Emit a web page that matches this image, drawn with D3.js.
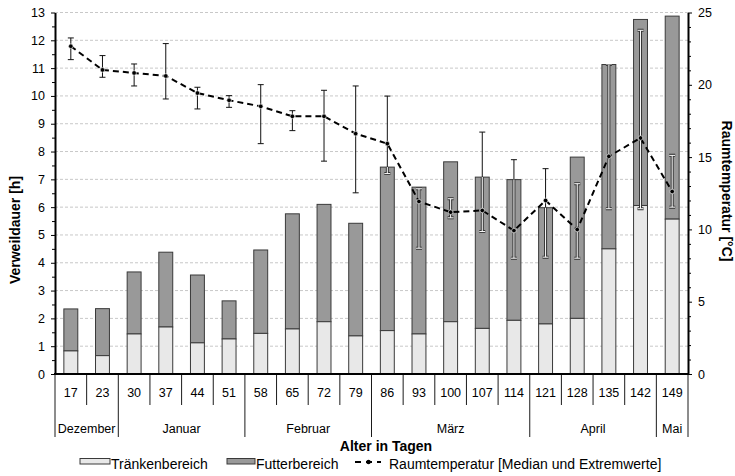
<!DOCTYPE html>
<html>
<head>
<meta charset="utf-8">
<script src="https://cdn.jsdelivr.net/npm/d3@7"></script>
<style>
  body { margin: 0; background: #fff; }
  svg { display: block; font-family: "Liberation Sans", Arial, sans-serif; }
</style>
</head>
<body>
<svg id="chart" width="735" height="476"></svg>
<script>
// Alter in Tagen (Kategorien)
const days = ["17","23","30","37","44","51","58","65","72","79","86","93","100","107","114","121","128","135","142","149"];
// Monatsgruppen: Name, erster und letzter Index
const monthNames = ["Dezember","Januar","Februar","März","April","Mai"];
const monthStart = [0, 2, 6, 10, 15, 19];
const monthEnd   = [1, 5, 9, 14, 18, 19];
// Verweildauer [h]
const traenken = [0.83,0.66,1.44,1.69,1.12,1.26,1.46,1.62,1.88,1.37,1.56,1.44,1.88,1.64,1.93,1.80,2.00,4.50,6.06,5.57];
const gesamt   = [2.34,2.35,3.67,4.38,3.56,2.63,4.46,5.76,6.10,5.42,7.44,6.72,7.63,7.08,6.99,5.98,7.80,11.13,12.75,12.87];
// Raumtemperatur [°C]: Median, Minimum, Maximum
const tMedian = [22.67,21.03,20.82,20.61,19.43,18.93,18.51,17.82,17.82,16.62,15.93,11.93,11.19,11.31,9.92,12.00,9.99,15.05,16.32,12.62];
const tMin    = [21.74,20.52,19.92,19.02,18.33,18.44,15.93,16.83,14.72,12.53,13.86,8.70,10.80,9.85,8.01,8.08,8.01,11.43,11.43,11.54];
const tMax    = [23.24,22.02,21.44,22.85,19.83,19.25,20.01,18.21,19.62,19.92,19.22,12.81,12.12,16.73,14.82,14.20,13.16,21.40,23.77,15.12];
const leftTicks = d3.range(0, 14);
const rightTicks = [0, 5, 10, 15, 20, 25];

const svg = d3.select("#chart");
const x0 = 55, x1 = 688, yTop = 12.5, yBot = 374;
const fs = 12.5;

const x = d3.scaleBand().domain(days).range([x0, x1]).paddingInner(0.56).paddingOuter(0.28);
const yL = d3.scaleLinear().domain([0, 13]).range([yBot, yTop]);
const yR = d3.scaleLinear().domain([0, 25]).range([yBot, yTop]);
const cx = d => x(d) + x.bandwidth() / 2;

// Hilfslinien
svg.append("g").selectAll("line").data(leftTicks.filter(t => t > 0)).join("line")
  .attr("x1", x0).attr("x2", x1).attr("y1", d => yL(d)).attr("y2", d => yL(d))
  .attr("stroke", "#c8c8c8").attr("stroke-width", 1).attr("stroke-dasharray", "3,2");

// Balken
const bars = svg.append("g");
bars.selectAll("rect.f").data(days).join("rect").attr("class", "f")
  .attr("x", d => x(d)).attr("width", x.bandwidth())
  .attr("y", (d, i) => yL(gesamt[i])).attr("height", (d, i) => yL(traenken[i]) - yL(gesamt[i]))
  .attr("fill", "#999999").attr("stroke", "#3a3a3a").attr("stroke-width", 1);
bars.selectAll("rect.t").data(days).join("rect").attr("class", "t")
  .attr("x", d => x(d)).attr("width", x.bandwidth())
  .attr("y", (d, i) => yL(traenken[i])).attr("height", (d, i) => yL(0) - yL(traenken[i]))
  .attr("fill", "#e8e8e8").attr("stroke", "#3a3a3a").attr("stroke-width", 1);

// Clip-Bereich der Balken, dort werden Fehlerbalken hell gezeichnet
const defs = svg.append("defs");
const clip = defs.append("clipPath").attr("id", "barClip");
clip.selectAll("rect").data(days).join("rect")
  .attr("x", d => x(d)).attr("width", x.bandwidth())
  .attr("y", (d, i) => yL(gesamt[i])).attr("height", (d, i) => yL(0) - yL(gesamt[i]));

function drawWhiskers(g, color, width) {
  g.selectAll("line.v").data(days).join("line").attr("class", "v")
    .attr("x1", d => cx(d)).attr("x2", d => cx(d))
    .attr("y1", (d, i) => yR(tMin[i])).attr("y2", (d, i) => yR(tMax[i]))
    .attr("stroke", color).attr("stroke-width", width);
  ["lo", "hi"].forEach(k => {
    g.selectAll("line." + k).data(days).join("line").attr("class", k)
      .attr("x1", d => cx(d) - 3).attr("x2", d => cx(d) + 3)
      .attr("y1", (d, i) => yR(k === "lo" ? tMin[i] : tMax[i]))
      .attr("y2", (d, i) => yR(k === "lo" ? tMin[i] : tMax[i]))
      .attr("stroke", color).attr("stroke-width", width);
  });
}
drawWhiskers(svg.append("g"), "#111", 1);
const inner = svg.append("g").attr("clip-path", "url(#barClip)");
drawWhiskers(inner.append("g"), "#333", 3);
drawWhiskers(inner.append("g"), "#fff", 1);

// Temperaturlinie
const line = d3.line().x(d => cx(d)).y((d, i) => yR(tMedian[i]));
svg.append("path").datum(days).attr("d", line)
  .attr("fill", "none").attr("stroke", "#000").attr("stroke-width", 2).attr("stroke-dasharray", "6,4");
svg.append("g").selectAll("circle").data(days).join("circle")
  .attr("cx", d => cx(d)).attr("cy", (d, i) => yR(tMedian[i])).attr("r", 2.3)
  .attr("fill", "#000").attr("stroke", "#fff").attr("stroke-width", 0.6);

// Achsen
svg.append("g").attr("transform", `translate(${x0},0)`)
  .call(d3.axisLeft(yL).tickValues(leftTicks).tickSize(4).tickSizeOuter(0).tickPadding(6));
svg.append("g").attr("transform", `translate(${x0},0)`)
  .call(d3.axisLeft(yL).tickValues(d3.range(0.5, 13, 1)).tickSize(3).tickFormat(""))
  .select(".domain").remove();
svg.append("g").attr("transform", `translate(${x1},0)`)
  .call(d3.axisRight(yR).tickValues(rightTicks).tickSize(4).tickSizeOuter(0).tickPadding(6));
svg.append("g").attr("transform", `translate(${x1},0)`)
  .call(d3.axisRight(yR).tickValues(d3.range(1, 25).filter(v => v % 5)).tickSize(3).tickFormat(""))
  .select(".domain").remove();
svg.selectAll(".domain").attr("stroke", "#000").attr("stroke-width", 2);
svg.selectAll(".tick line").attr("stroke", "#000");
svg.selectAll(".tick text").attr("font-size", fs).attr("fill", "#000")
  .attr("font-family", "Liberation Sans, Arial, sans-serif");

// x-Achse mit Tabellenbeschriftung
const xa = svg.append("g");
xa.append("line").attr("x1", x0 - 1).attr("x2", x1 + 1).attr("y1", yBot).attr("y2", yBot)
  .attr("stroke", "#000").attr("stroke-width", 2);
const bounds = days.map((d, i) => x0 + i * x.step());
bounds.forEach((b, i) => {
  if (i === 0) return;
  const isMonth = monthStart.includes(i);
  xa.append("line").attr("x1", b).attr("x2", b).attr("y1", yBot).attr("y2", isMonth ? 437 : 405)
    .attr("stroke", "#000").attr("stroke-width", 0.9);
});
[x0, x1].forEach(b => xa.append("line").attr("x1", b).attr("x2", b).attr("y1", yBot).attr("y2", 437)
  .attr("stroke", "#000").attr("stroke-width", 0.9));
xa.selectAll("text.d").data(days).join("text").attr("class", "d")
  .attr("x", d => cx(d)).attr("y", 397).attr("text-anchor", "middle")
  .attr("font-size", fs).text(d => d);
xa.selectAll("text.m").data(monthNames).join("text").attr("class", "m")
  .attr("x", (d, i) => (x0 + monthStart[i] * x.step() + x0 + (monthEnd[i] + 1) * x.step()) / 2)
  .attr("y", 433).attr("text-anchor", "middle").attr("font-size", fs).text(d => d);

// Achsentitel
svg.append("text").attr("x", 386).attr("y", 451).attr("text-anchor", "middle")
  .attr("font-size", 14).attr("font-weight", "bold").text("Alter in Tagen");
svg.append("text").attr("transform", "translate(20,230) rotate(-90)").attr("text-anchor", "middle")
  .attr("font-size", 14).attr("font-weight", "bold").text("Verweildauer [h]");
svg.append("text").attr("transform", "translate(722,191) rotate(90)").attr("text-anchor", "middle")
  .attr("font-size", 14).attr("font-weight", "bold").text("Raumtemperatur [°C]");

// Legende
const lg = svg.append("g");
lg.append("rect").attr("x", 80).attr("y", 458.5).attr("width", 30).attr("height", 5.5)
  .attr("fill", "#e8e8e8").attr("stroke", "#3a3a3a");
lg.append("text").attr("x", 111).attr("y", 469).attr("font-size", 14).text("Tränkenbereich");
lg.append("rect").attr("x", 227).attr("y", 458.5).attr("width", 28).attr("height", 5.5)
  .attr("fill", "#999999").attr("stroke", "#3a3a3a");
lg.append("text").attr("x", 256).attr("y", 469).attr("font-size", 14).text("Futterbereich");
lg.append("line").attr("x1", 355).attr("x2", 381).attr("y1", 462).attr("y2", 462)
  .attr("stroke", "#000").attr("stroke-width", 2).attr("stroke-dasharray", "6,5");
lg.append("circle").attr("cx", 368.5).attr("cy", 462).attr("r", 2.2).attr("fill", "#000");
lg.append("text").attr("x", 389).attr("y", 469).attr("font-size", 14).text("Raumtemperatur [Median und Extremwerte]");
</script>
</body>
</html>
